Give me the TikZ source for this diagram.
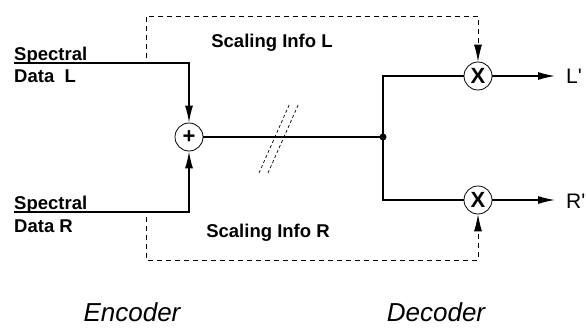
\documentclass[tikz,border=0pt]{standalone}
\usepackage{fontspec}
\setmainfont{Liberation Sans}
\newfontfamily\primefont{Liberation Sans}
\usetikzlibrary{arrows.meta}

\begin{document}
\begin{tikzpicture}[x=1pt, y=-1pt, >={Latex[length=17pt,width=8pt]},
    op/.style={circle, draw, line width=0.8pt, minimum size=28pt, inner sep=0pt,
      font=\fontsize{22}{22}\selectfont\bfseries},
    dot/.style={circle, fill, inner sep=0pt, minimum size=7pt},
    sig/.style={line width=1.3pt},
    side/.style={line width=0.9pt, dash pattern=on 5pt off 4pt},
    lbl/.style={font=\fontsize{18.5}{20}\selectfont\bfseries, inner sep=0pt},
    part/.style={font=\fontsize{26}{28}\selectfont\itshape, inner sep=0pt}]
  \useasboundingbox (0,0) rectangle (586,329);
  %--- Operators
  \node[op]  (sum)   at (189,137) {+};
  \node[op]  (mulL)  at (478,76)  {X};
  \node[op]  (mulR)  at (478,200) {X};
  \node[dot] (split) at (383,137) {};
  %--- Coordinates
  \coordinate (inL)   at (14,63);
  \coordinate (inR)   at (14,212);
  \coordinate (outL)  at (555,76);
  \coordinate (outR)  at (555,200);
  \coordinate (sideL) at (146,58);
  \coordinate (sideR) at (146,217);
  \coordinate (topL)  at (146,16);
  \coordinate (botL)  at (146,260);
  %--- Inputs
  \draw[sig, ->] (inL) -| (sum.north);
  \draw[sig, ->] (inR) -| (sum.south);
  \node[lbl, anchor=base west] (specL) at (14,60)  {Spectral};
  \node[lbl, anchor=base west] (dataL) at (14,82)  {Data\ \ L};
  \node[lbl, anchor=base west] (specR) at (14,209) {Spectral};
  \node[lbl, anchor=base west] (dataR) at (14,232) {Data R};
  %--- Channel
  \draw[sig] (sum.east) -- (split.center);
  \draw[sig] (split.center) |- (mulL.west);
  \draw[sig] (split.center) |- (mulR.west);
  \draw[side, dash pattern=on 3pt off 2.5pt, line width=0.7pt] (259,173) -- (290,103);
  \draw[side, dash pattern=on 3pt off 2.5pt, line width=0.7pt] (268,173) -- (299,103);
  %--- Outputs
  \draw[sig, ->] (mulL.east) -- (outL);
  \draw[sig, ->] (mulR.east) -- (outR);
  \node[font=\fontsize{21}{22}\selectfont\primefont, anchor=base west, inner sep=0pt] (Lout) at (566,83)  {L'};
  \node[font=\fontsize{21}{22}\selectfont\primefont, anchor=base west, inner sep=0pt] (Rout) at (566,208) {R'};
  %--- Scaling info (side path)
  \draw[side, ->] (sideL) -- (topL) -| (mulL.north);
  \draw[side, ->] (sideR) -- (botL) -| (mulR.south);
  \node[lbl, anchor=base] (infoL) at (272,48)  {Scaling Info L};
  \node[lbl, anchor=base] (infoR) at (268,237) {Scaling Info R};
  %--- Parts
  \node[part, anchor=base] (enc) at (132,321) {Encoder};
  \node[part, anchor=base] (dec) at (436,321) {Decoder};
\end{tikzpicture}
\end{document}
